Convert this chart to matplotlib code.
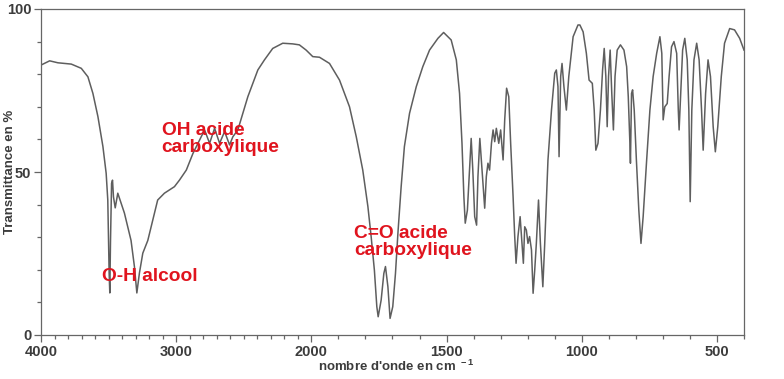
import numpy as np
import matplotlib
matplotlib.use('Agg')
import matplotlib.pyplot as plt
from matplotlib.ticker import FixedLocator, NullFormatter

# IR spectrum (wavenumber in cm-1, transmittance in %)
wavenumber = [4000, 3936, 3875, 3776, 3702, 3653, 3616, 3579, 3542, 3518, 3506, 3496, 3491, 3486,
              3478, 3471, 3464, 3451, 3432, 3383, 3334, 3309, 3291, 3272, 3247, 3210, 3173, 3137,
              3087, 3013, 2976, 2925, 2876, 2827, 2790, 2753, 2716, 2679, 2642, 2605, 2581, 2544,
              2507, 2470, 2433, 2396, 2347, 2286, 2212, 2138, 2089, 2039, 1995, 1970, 1933, 1896,
              1859, 1834, 1810, 1791, 1779, 1767, 1758, 1753, 1742, 1732, 1726, 1717, 1709, 1699,
              1689, 1680, 1668, 1656, 1637, 1612, 1588, 1563, 1532, 1511, 1495, 1483, 1464, 1452,
              1443, 1436, 1431, 1423, 1415, 1409, 1403, 1396, 1389, 1384, 1377, 1369, 1359, 1353,
              1347, 1341, 1334, 1328, 1322, 1316, 1307, 1300, 1291, 1285, 1278, 1270, 1263, 1254,
              1248, 1243, 1236, 1228, 1221, 1216, 1211, 1205, 1199, 1193, 1186, 1180, 1174, 1168,
              1160, 1153, 1144, 1137, 1125, 1112, 1100, 1094, 1088, 1084, 1078, 1073, 1066, 1057,
              1048, 1032, 1014, 1007, 995, 983, 973, 967, 961, 954, 948, 940, 931, 923, 917, 911,
              906, 901, 895, 889, 883, 877, 869, 857, 844, 834, 828, 822, 820, 816, 812, 806, 798,
              789, 781, 773, 760, 748, 736, 723, 711, 704, 699, 693, 684, 677, 668, 659, 649, 643,
              640, 634, 627, 619, 610, 604, 599, 593, 585, 575, 566, 557, 551, 542, 533, 524, 514,
              506, 497, 484, 472, 453, 435, 416, 400]
transmittance = [82.8, 84.1, 83.5, 83.1, 81.8, 79.2, 74.1, 67, 57.8, 49.6, 41.4, 19, 12.9, 28.6,
                 46.5, 47.5, 42.4, 39, 43.5, 37.4, 29, 21, 12.9, 19, 25.1, 29, 35.3, 41.4,
                 43.5, 45.5, 47.5, 50.6, 55.7, 59.8, 62.9, 58.8, 63.4, 58.8, 62.4, 58.3, 60.8, 62.9,
                 68, 73.1, 77.2, 81.3, 84.4, 87.9, 89.5, 89.3, 89, 87.4, 85.4, 85.2, 83.3, 78.2,
                 70, 60.8, 50.6, 39.4, 30.2, 19.9, 8.7, 5.6, 10.7, 18.9, 21, 14.8, 5.1, 8.7,
                 18.9, 31.2, 45.5, 57.8, 68, 76.2, 82.3, 87.4, 91, 92.8, 91.5, 90.5, 84.4, 74.1,
                 58.8, 42.4, 34.3, 38.3, 50.6, 60.3, 50.6, 36.3, 33.7, 48.6, 60.3, 50.6, 38.9, 48.6,
                 52.7, 50.6, 58.8, 62.9, 59.3, 63.4, 58.8, 62.9, 53.7, 66, 75.7, 73.1, 58.8, 42.4,
                 30.2, 22, 30.2, 36.3, 28.1, 22, 33.2, 32.2, 28.1, 30.2, 26.1, 12.8, 19.9, 28.1,
                 41.4, 28.1, 14.8, 28.1, 53.7, 69, 80.3, 81.3, 76.2, 54.7, 79.3, 83.3, 76.2, 69,
                 79.3, 91.5, 95.1, 95.1, 93, 86.4, 78.2, 77.7, 77.2, 69, 56.7, 58.8, 69, 81.3, 87.9, 79.3,
                 63.9, 79.3, 87.4, 74.1, 62.9, 79.3, 87.4, 89, 87.4, 82.3, 73.1, 58.8, 52.7, 74.1, 75.2, 69, 53.7,
                 38.3, 28.1, 36.3, 53.7, 69, 79.3, 86.4, 91.5, 86.4, 66, 70, 71, 79.3, 88.4, 90, 86.4, 69,
                 62.9, 74.1, 87.4, 91, 84.4, 69, 40.9, 69, 84.4, 89.5, 84.4, 69, 56.7, 74.1, 84.4, 79.3, 63.9,
                 56.2, 63.9, 79.3, 89.5, 94, 93.6, 91, 87.4]

major_ticks = [4000, 3000, 2000, 1500, 1000, 500]
tick_labels = ['4000', '3000', '2000', '1500', '1000', '500']

# annotations: (text, wavenumber of left edge, transmittance of top edge)
labels = [('OH acide\ncarboxylique', 3107, 65.3),
          ('O-H alcool', 3550, 20.5),
          ('C=O acide\ncarboxylique', 1841, 33.7)]


# spectrometer axis: 4000-2000 drawn at half the scale of 2000-400
def fwd(w):
    w = np.asarray(w, dtype=float)
    return np.where(w > 2000, 2000 + (w - 2000) / 2.0, w)


def inv(u):
    u = np.asarray(u, dtype=float)
    return np.where(u > 2000, 2000 + (u - 2000) * 2.0, u)


plt.rcParams['font.family'] = ['Liberation Sans', 'DejaVu Sans']
plt.rcParams['mathtext.default'] = 'regular'

grey = '#3c3c3c'
fig = plt.figure(figsize=(7.84, 3.79), dpi=100)
ax = fig.add_axes([41 / 784, 1 - 335 / 379, (744 - 41) / 784, (335 - 9) / 379])

ax.plot(wavenumber, transmittance, color='#5e5e5e', lw=1.1)

ax.set_xscale('function', functions=(fwd, inv))
ax.set_xlim(4000, 400)
ax.set_ylim(0, 100)

ax.xaxis.set_major_locator(FixedLocator(major_ticks))
ax.set_xticklabels(tick_labels)
ax.xaxis.set_minor_locator(FixedLocator(np.arange(400, 4001, 100)))
ax.xaxis.set_minor_formatter(NullFormatter())
ax.yaxis.set_major_locator(FixedLocator([0, 50, 100]))
ax.yaxis.set_minor_locator(FixedLocator(np.arange(0, 101, 10)))

ax.tick_params(which='both', direction='out', color='#666666', width=0.9)
ax.tick_params(which='major', length=5, labelsize=10.5, labelcolor=grey, pad=2)
ax.tick_params(which='minor', length=3)
for lab in ax.get_xticklabels() + ax.get_yticklabels():
    lab.set_fontweight('bold')
for sp in ax.spines.values():
    sp.set_color('#666666')
    sp.set_linewidth(0.9)

ax.set_ylabel('Transmittance en %', fontsize=9.5, fontweight='bold', color=grey)
ax.yaxis.set_label_coords(-0.036, 0.5)
ax.set_xlabel("nombre d'onde en cm$^{\\ -1}$", fontsize=9.5, fontweight='bold', color=grey)
ax.xaxis.set_label_coords(0.505, -0.072)

for txt, w, t in labels:
    ax.text(w, t, txt, color='#e0141e', fontsize=13.8, fontweight='bold',
            ha='left', va='top', linespacing=1.0)

fig.savefig('out.png', dpi=100)
